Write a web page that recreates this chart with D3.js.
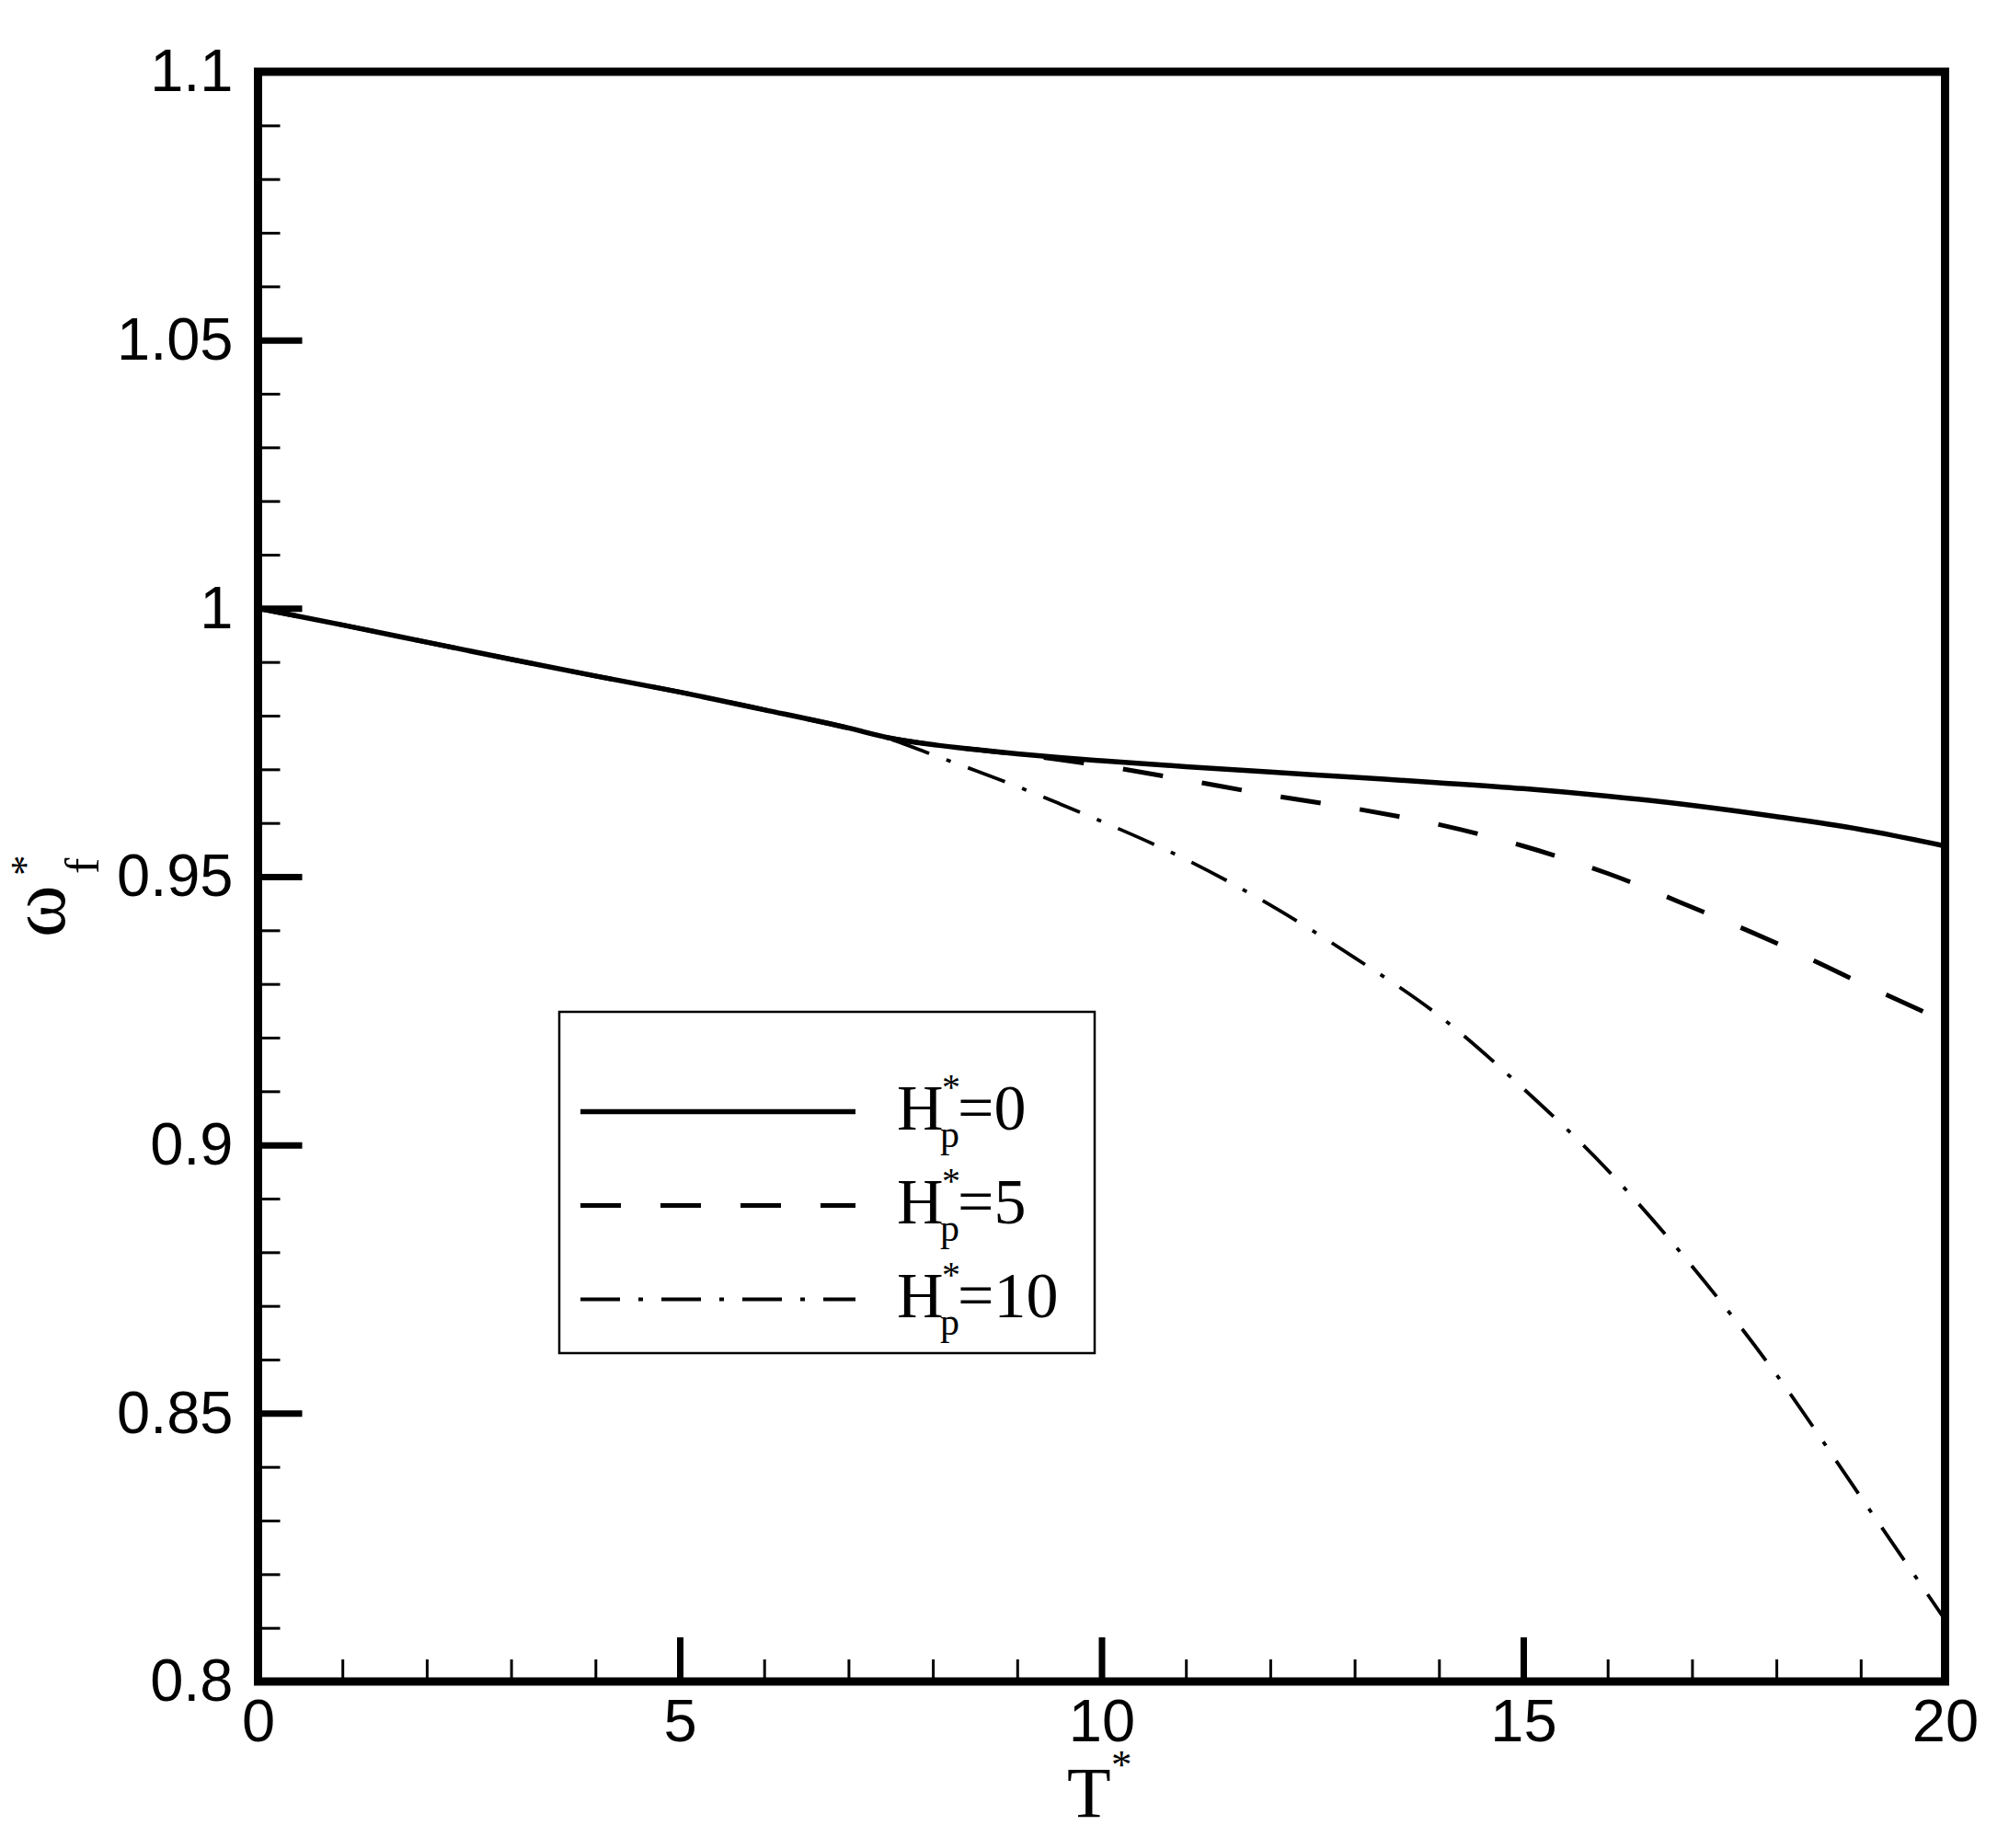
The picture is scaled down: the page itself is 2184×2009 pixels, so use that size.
<!DOCTYPE html>
<html>
<head>
<meta charset="utf-8">
<script src="https://cdn.jsdelivr.net/npm/d3@7"></script>
<style>
  body { margin: 0; background: #fff; }
  svg { display: block; background: #fff; }
  .tick text { font-family: "Liberation Sans", Arial, sans-serif; fill: #000; }
  .serif { font-family: "Liberation Serif", "Times New Roman", serif; fill: #000; }
</style>
</head>
<body>
<div id="chart"></div>
<script>
// values
const tValues = [0, 1, 2, 3, 4, 5, 6, 7, 7.5, 8, 8.5, 9, 9.5, 10, 11, 12, 13, 14, 15, 16, 17, 18, 19, 20];
const h0Values = [1.0, 0.9969, 0.9937, 0.9905, 0.9874, 0.9844, 0.9811, 0.9777, 0.9758, 0.9746, 0.9737, 0.9729, 0.9722, 0.9716, 0.9705, 0.9695, 0.9685, 0.9675, 0.9664, 0.9650, 0.9633, 0.9612, 0.9588, 0.9557];
const h5Values = [1.0, 0.9969, 0.9937, 0.9905, 0.9874, 0.9844, 0.9811, 0.9777, 0.9758, 0.9746, 0.9737, 0.9728, 0.9718, 0.9707, 0.9680, 0.9652, 0.9627, 0.9597, 0.9557, 0.9506, 0.9443, 0.9376, 0.9302, 0.9230];
const h10Values = [1.0, 0.9969, 0.9937, 0.9905, 0.9874, 0.9844, 0.9811, 0.9777, 0.9756, 0.9727, 0.9698, 0.9668, 0.9636, 0.9603, 0.9532, 0.9447, 0.9349, 0.9241, 0.9105, 0.8953, 0.8774, 0.8572, 0.8344, 0.8115];
const seriesNames = ["0", "5", "10"];

const xMajor = [0, 5, 10, 15, 20];
const xLabels = ["0", "5", "10", "15", "20"];
const yMajor = [0.8, 0.85, 0.9, 0.95, 1, 1.05, 1.1];
const yLabels = ["0.8", "0.85", "0.9", "0.95", "1", "1.05", "1.1"];

const W = 2184, H = 2009;
const plotLeft = 280.5, plotRight = 2114.5, plotTop = 78, plotBottom = 1828;

const svg = d3.select("#chart").append("svg")
    .attr("width", W)
    .attr("height", H);

const x = d3.scaleLinear().domain([0, 20]).range([plotLeft, plotRight]);
const y = d3.scaleLinear().domain([0.8, 1.1]).range([plotBottom, plotTop]);

// minor ticks
const xMinor = d3.range(0, 21).filter(d => d % 5 !== 0);
const yMinor = d3.range(80, 111).filter(d => d % 5 !== 0).map(d => d / 100);

const styleAxis = (g, w) => {
    g.select(".domain").remove();
    g.selectAll(".tick line").attr("stroke", "#000").attr("stroke-width", w);
};

svg.append("g")
    .attr("transform", `translate(0,${plotBottom})`)
    .call(d3.axisBottom(x).tickValues(xMinor).tickSize(-24).tickFormat(""))
    .call(g => styleAxis(g, 3));

svg.append("g")
    .attr("transform", `translate(${plotLeft},0)`)
    .call(d3.axisLeft(y).tickValues(yMinor).tickSize(-24).tickFormat(""))
    .call(g => styleAxis(g, 3));

svg.append("g")
    .attr("transform", `translate(0,${plotBottom})`)
    .call(d3.axisBottom(x).tickValues(xMajor).tickSize(-48).tickPadding(19)
        .tickFormat((d, i) => xLabels[i]))
    .call(g => styleAxis(g, 7))
    .call(g => g.selectAll(".tick text").attr("font-size", 65));

svg.append("g")
    .attr("transform", `translate(${plotLeft},0)`)
    .call(d3.axisLeft(y).tickValues(yMajor).tickSize(-48).tickPadding(27)
        .tickFormat((d, i) => yLabels[i]))
    .call(g => styleAxis(g, 7))
    .call(g => g.selectAll(".tick text").attr("font-size", 65));

// curves
svg.append("clipPath").attr("id", "plot-clip")
    .append("rect")
    .attr("x", plotLeft).attr("y", plotTop)
    .attr("width", plotRight - plotLeft).attr("height", plotBottom - plotTop);

const line = d3.line()
    .x(d => x(d[0]))
    .y(d => y(d[1]))
    .curve(d3.curveMonotoneX);

const seriesValues = [h0Values, h5Values, h10Values];
const lineStyles = [
    { width: 5.5, dash: null },
    { width: 5, dash: "44,43" },
    { width: 3.8, dash: "43,20,5,20" }
];

svg.append("g")
    .attr("clip-path", "url(#plot-clip)")
    .selectAll("path")
    .data(seriesValues)
    .join("path")
    .attr("d", vals => line(tValues.map((t, i) => [t, vals[i]])))
    .attr("fill", "none")
    .attr("stroke", "#000")
    .attr("stroke-width", (_d, i) => lineStyles[i].width)
    .attr("stroke-dasharray", (_d, i) => lineStyles[i].dash);

// frame
svg.append("rect")
    .attr("x", plotLeft).attr("y", plotTop)
    .attr("width", plotRight - plotLeft).attr("height", plotBottom - plotTop)
    .attr("fill", "none")
    .attr("stroke", "#000")
    .attr("stroke-width", 9);

// legend
const legend = svg.append("g");
legend.append("rect")
    .attr("x", 608).attr("y", 1100)
    .attr("width", 582).attr("height", 371)
    .attr("fill", "#fff")
    .attr("stroke", "#000")
    .attr("stroke-width", 2.5);

const rows = legend.selectAll("g.row")
    .data(seriesNames)
    .join("g")
    .attr("class", "row")
    .attr("transform", (_d, i) => `translate(0,${1208.5 + i * 102})`);

rows.append("line")
    .attr("x1", 631).attr("x2", 930)
    .attr("stroke", "#000")
    .attr("stroke-width", (_d, i) => lineStyles[i].width)
    .attr("stroke-dasharray", (_d, i) => lineStyles[i].dash);

const lx = 975;
const labels = rows.append("text")
    .attr("class", "serif")
    .attr("x", lx).attr("y", 19)
    .attr("font-size", 70);
labels.append("tspan").text("H");
labels.append("tspan").attr("x", lx + 49).attr("dy", -33).attr("font-size", 40).text("*");
labels.append("tspan").attr("x", lx + 47).attr("dy", 52).attr("font-size", 42).text("p");
labels.append("tspan").attr("x", lx + 66).attr("dy", -19).text(d => "=" + d);

// axis titles
const xTitle = svg.append("text")
    .attr("class", "serif")
    .attr("x", 1160).attr("y", 1975)
    .attr("font-size", 78);
xTitle.append("tspan").text("T");
xTitle.append("tspan").attr("x", 1208).attr("dy", -42).attr("font-size", 45).text("*");

const yTitle = svg.append("g")
    .attr("transform", "translate(70,990) rotate(-90)")
    .append("text")
    .attr("class", "serif")
    .attr("x", -29).attr("y", 0)
    .attr("font-size", 86);
yTitle.append("tspan").text("ω");
yTitle.append("tspan").attr("x", 38).attr("dy", -28).attr("font-size", 45).text("*");
yTitle.append("tspan").attr("x", 40).attr("dy", 65).attr("font-size", 52).text("f");
</script>
</body>
</html>
